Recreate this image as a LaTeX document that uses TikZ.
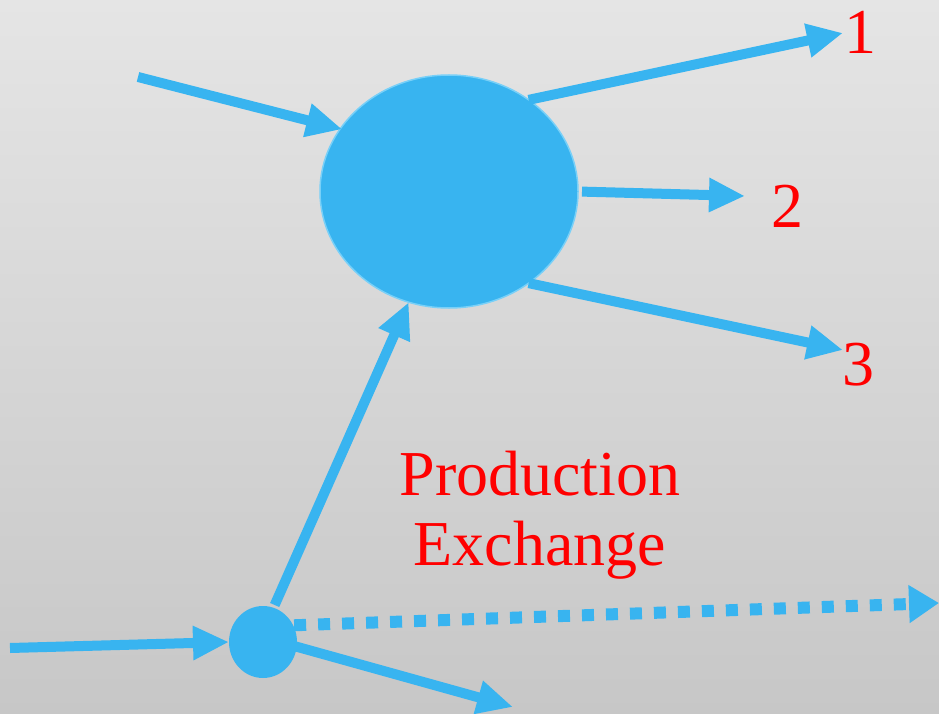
\documentclass[tikz,border=0pt]{standalone}
\usepackage{fontspec}
\setmainfont{Liberation Serif}
\usetikzlibrary{shapes.geometric,arrows.meta}
\definecolor{ball}{RGB}{56,180,240}
\definecolor{ballrim}{RGB}{120,208,248}
\definecolor{bgtop}{RGB}{229,229,229}
\definecolor{bgbot}{RGB}{199,199,199}
\definecolor{lbl}{RGB}{255,0,0}
\begin{document}
\begin{tikzpicture}[x=1pt,y=-1pt,
  flow/.style={draw=ball,line width=10pt,-{Triangle[length=36pt,width=32pt]}},
  dotflow/.style={draw=ball,line width=12pt,dash pattern=on 12pt off 12pt,-{Triangle[length=30pt,width=36pt]}},
  lab/.style={text=lbl,font=\fontsize{64}{72}\selectfont,inner sep=0pt}]
\fill[top color=bgtop,bottom color=bgbot] (0,0) rectangle (939,714);
\useasboundingbox (0,0) rectangle (939,714);
\node[ellipse,fill=ball,draw=ballrim,line width=1.5pt,minimum width=258pt,minimum height=233pt,inner sep=0pt,outer sep=0pt] (big) at (449,191.5) {};
\node[ellipse,fill=ball,minimum width=68pt,minimum height=72pt,inner sep=0pt,outer sep=0pt] (small) at (263,642) {};
\coordinate (inA) at (138,77);
\coordinate (inB) at (10,648);
\coordinate (o1) at (843,33);
\coordinate (o2) at (745,196);
\coordinate (o3) at (843,350);
\coordinate (oD) at (513,707);
\coordinate (oX) at (939,603);
\draw[flow,shorten >=-2pt] (inA) -- (big.150);
\draw[flow] (big.49) -- (o1);
\draw[flow,shorten <=4pt] (big.east) -- (o2);
\draw[flow] (big.-49) -- (o3);
\draw[flow,shorten <=3pt] (small.73) -- (big.250);
\draw[flow] (inB) -- (small.west);
\draw[flow,shorten <=-3pt] (small.-8) -- (oD);
\draw[dotflow,shorten <=1pt] (small.29) -- (oX);
\node[lab] (l1) at (860,32) {1};
\node[lab] (l2) at (787,206) {2};
\node[lab] (l3) at (858,365) {3};
\node[lab,anchor=base] (prod) at (540,495) {Production};
\node[lab,anchor=base] (exch) at (540,565) {Exchange};
\end{tikzpicture}
\end{document}
